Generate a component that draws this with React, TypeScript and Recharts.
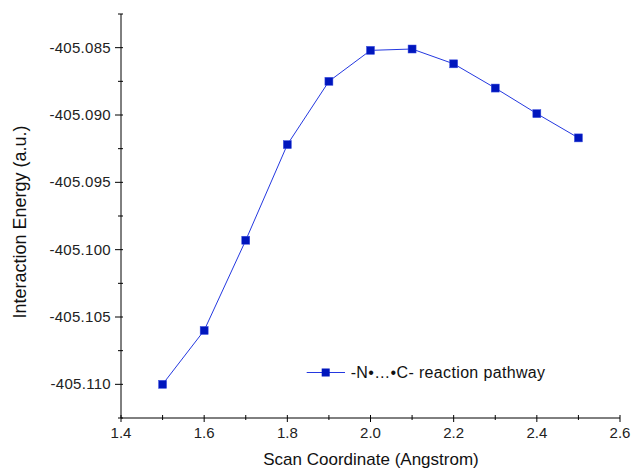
import React from 'react';
import { LineChart, Line, XAxis, YAxis, Legend, Label } from 'recharts';

// scan points
const scanCoordinate = [1.5, 1.6, 1.7, 1.8, 1.9, 2.0, 2.1, 2.2, 2.3, 2.4, 2.5];
const interactionEnergy = [
  -405.11, -405.106, -405.0993, -405.0922, -405.0875, -405.0852,
  -405.0851, -405.0862, -405.088, -405.0899, -405.0917,
];

const xTicks = [1.4, 1.5, 1.6, 1.7, 1.8, 1.9, 2.0, 2.1, 2.2, 2.3, 2.4, 2.5, 2.6];
const xMajorTicks = [1.4, 1.6, 1.8, 2.0, 2.2, 2.4, 2.6];
const yTicks = [
  -405.1125, -405.11, -405.1075, -405.105, -405.1025, -405.1, -405.0975,
  -405.095, -405.0925, -405.09, -405.0875, -405.085, -405.0825,
];
const yMajorTicks = [-405.11, -405.105, -405.1, -405.095, -405.09, -405.085];

const data = scanCoordinate.map((x, i) => ({ x, energy: interactionEnergy[i] }));

const FONT = '"Liberation Sans", Arial, sans-serif';
const MARKER = '#0016bd';
const LINE = '#2438e0';

const isMajor = (v: number, majors: number[]) => majors.some((m) => Math.abs(m - v) < 1e-7);

const XTick = (props: any) => {
  const { x, y, payload } = props;
  const major = isMajor(payload.value, xMajorTicks);
  return (
    <g>
      <line x1={x} x2={x} y1={y - 3} y2={y + (major ? 4 : 2)} stroke="#000" />
      {major && (
        <text x={x} y={y + 20} textAnchor="middle" fontSize={15} fontFamily={FONT} fill="#222">
          {payload.value.toFixed(1)}
        </text>
      )}
    </g>
  );
};

const YTick = (props: any) => {
  const { x, y, payload } = props;
  const major = isMajor(payload.value, yMajorTicks);
  return (
    <g>
      <line x1={x - (major ? 6 : 3)} x2={x + 2} y1={y} y2={y} stroke="#000" />
      {major && (
        <text x={x - 10} y={y + 5} textAnchor="end" fontSize={15} fontFamily={FONT} fill="#222" letterSpacing={0.3}>
          {payload.value.toFixed(3)}
        </text>
      )}
    </g>
  );
};

const SquareDot = (props: any) => {
  const { cx, cy, index } = props;
  return <rect key={`dot-${index}`} x={cx - 4} y={cy - 4} width={8} height={8} fill={MARKER} stroke="#3b4fe0" strokeWidth={0.5} />;
};

const renderLegend = () => (
  <svg width={260} height={22}>
    <line x1={6.7} x2={45} y1={10.5} y2={10.5} stroke={LINE} strokeWidth={1} />
    <rect x={21.7} y={6.5} width={8} height={8} fill={MARKER} />
    <text x={50.7} y={15.5} fontSize={16} fontFamily={FONT} fill="#111" letterSpacing={0.35}>
      -N•…•C- reaction pathway
    </text>
  </svg>
);

export default function App() {
  return (
    <div style={{ position: 'absolute', left: 0, top: 0, background: '#fff' }}>
      <LineChart width={633} height={468} data={data} margin={{ top: 14, right: 13, left: 0, bottom: 0 }}>
        <XAxis
          type="number"
          dataKey="x"
          domain={[1.4, 2.6]}
          ticks={xTicks}
          interval={0}
          height={50}
          tickSize={0}
          tickMargin={0}
          tickLine={false}
          axisLine={{ stroke: '#000' }}
          tick={<XTick />}
        >
          <Label
            content={() => (
              <text x={371} y={465} textAnchor="middle" fontSize={17} fontFamily={FONT} fill="#111">
                Scan Coordinate (Angstrom)
              </text>
            )}
          />
        </XAxis>
        <YAxis
          type="number"
          domain={[-405.1125, -405.0825]}
          ticks={yTicks}
          interval={0}
          width={121}
          tickSize={0}
          tickMargin={0}
          tickLine={false}
          axisLine={{ stroke: '#000' }}
          tick={<YTick />}
          allowDataOverflow
        >
          <Label
            content={() => (
              <text
                x={26}
                y={222}
                textAnchor="middle"
                fontSize={18}
                fontFamily={FONT}
                fill="#111"
                transform="rotate(-90, 26, 222)"
              >
                Interaction Energy (a.u.)
              </text>
            )}
          />
        </YAxis>
        <Legend
          layout="horizontal"
          verticalAlign="middle"
          align="center"
          content={renderLegend}
          wrapperStyle={{ position: 'absolute', left: 300, top: 362, width: 260, height: 22 }}
        />
        <Line
          type="linear"
          dataKey="energy"
          stroke={LINE}
          strokeWidth={1}
          dot={SquareDot}
          activeDot={false}
          isAnimationActive={false}
        />
      </LineChart>
    </div>
  );
}
